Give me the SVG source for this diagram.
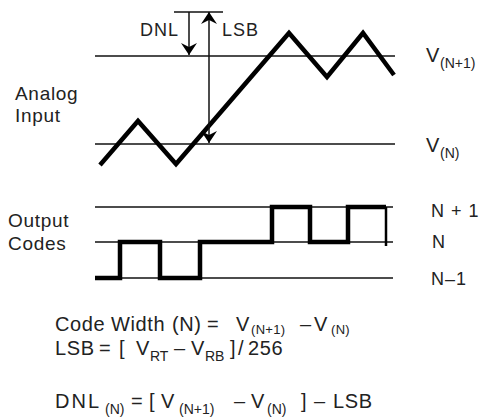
<svg xmlns="http://www.w3.org/2000/svg" width="479" height="419" viewBox="0 0 479 419">
<defs>
<style>
.thin{stroke:#111;stroke-width:1.5;fill:none}
.thick{stroke:#000;stroke-width:4.5;fill:none;stroke-linejoin:miter}
text{font-family:"Liberation Sans",Arial,sans-serif;fill:#222}
.lbl{font-size:19px;letter-spacing:0.7px}
.m{font-size:20px;letter-spacing:0.6px}
.s{font-size:14px;letter-spacing:0px}
.s13{font-size:13px;letter-spacing:0.3px}
.r{font-size:18px;letter-spacing:1px}
</style>
<marker id="ah" markerUnits="userSpaceOnUse" markerWidth="16" markerHeight="16" viewBox="0 0 16 16" refX="14" refY="8" orient="auto-start-reverse">
<path d="M2,0 L14,8 L2,16 L6,8 Z" fill="#000"/>
</marker>
</defs>
<rect width="479" height="419" fill="#fff"/>

<g id="analog">
<line class="thin" x1="95" y1="56" x2="395" y2="56"/>
<line class="thin" x1="95" y1="144" x2="395" y2="144"/>
<line class="thin" x1="174" y1="12" x2="223" y2="12"/>
<polyline class="thick" points="100,165 138,121 176,164 289,33 327,77 363,33 394,75"/>
</g>

<g id="connectors">
<line class="thin" x1="189" y1="12" x2="189" y2="55" marker-end="url(#ah)"/>
<line class="thin" x1="209" y1="12" x2="209" y2="143" marker-start="url(#ah)" marker-end="url(#ah)"/>
</g>

<g id="arrow-labels">
<text class="r" x="140" y="36">DNL</text>
<text class="r" x="222" y="36">LSB</text>
</g>

<g id="v-labels">
<text class="m" x="426" y="62">V</text>
<text class="s" x="440" y="68">(N+1)</text>
<text class="m" x="426" y="152">V</text>
<text class="s" x="440" y="158">(N)</text>
</g>

<g id="left-labels">
<text class="lbl" x="15" y="100">Analog</text>
<text class="lbl" x="15" y="122">Input</text>
<text class="lbl" x="8" y="227">Output</text>
<text class="lbl" x="8" y="250">Codes</text>
</g>

<g id="codes">
<line class="thin" x1="95" y1="207" x2="393" y2="207"/>
<line class="thin" x1="95" y1="242" x2="393" y2="242"/>
<line class="thin" x1="95" y1="278" x2="393" y2="278"/>
<path class="thick" d="M95,278 H120 V242 H160 V278 H200 V242 H272 V207 H310 V242 H348 V207 H386"/>
<line x1="386" y1="207" x2="386" y2="246" stroke="#000" stroke-width="2.5"/>
<text class="r" x="431" y="217">N + 1</text>
<text class="r" x="432" y="248">N</text>
<text class="r" x="431" y="285">N–1</text>
</g>

<g id="formulas">
<text class="m" y="331"><tspan x="55">Code</tspan><tspan x="111">Width</tspan><tspan x="172">(N)</tspan><tspan x="207">=</tspan><tspan x="236">V</tspan><tspan class="s13" x="251" y="334">(N+1)</tspan><tspan x="300" y="331">–</tspan><tspan x="314">V</tspan><tspan class="s13" x="331" y="334">(N)</tspan></text>
<text class="m" y="355"><tspan x="55">LSB</tspan><tspan x="99">=</tspan><tspan x="119">[</tspan><tspan x="136">V</tspan><tspan class="s" x="150" y="361">RT</tspan><tspan x="174" y="355">–</tspan><tspan x="191">V</tspan><tspan class="s" x="205" y="361">RB</tspan><tspan x="230" y="355">]</tspan><tspan x="238">/</tspan><tspan x="248">256</tspan></text>
<text class="m" y="408"><tspan x="55" style="letter-spacing:2px">DNL</tspan><tspan class="s" x="105" y="414">(N)</tspan><tspan x="131" y="408">=</tspan><tspan x="149">[</tspan><tspan x="161">V</tspan><tspan class="s" x="179" y="414">(N+1)</tspan><tspan x="234" y="408">–</tspan><tspan x="251">V</tspan><tspan class="s" x="267" y="414">(N)</tspan><tspan x="301" y="408">]</tspan><tspan x="314">–</tspan><tspan x="333">LSB</tspan></text>
</g>
</svg>
